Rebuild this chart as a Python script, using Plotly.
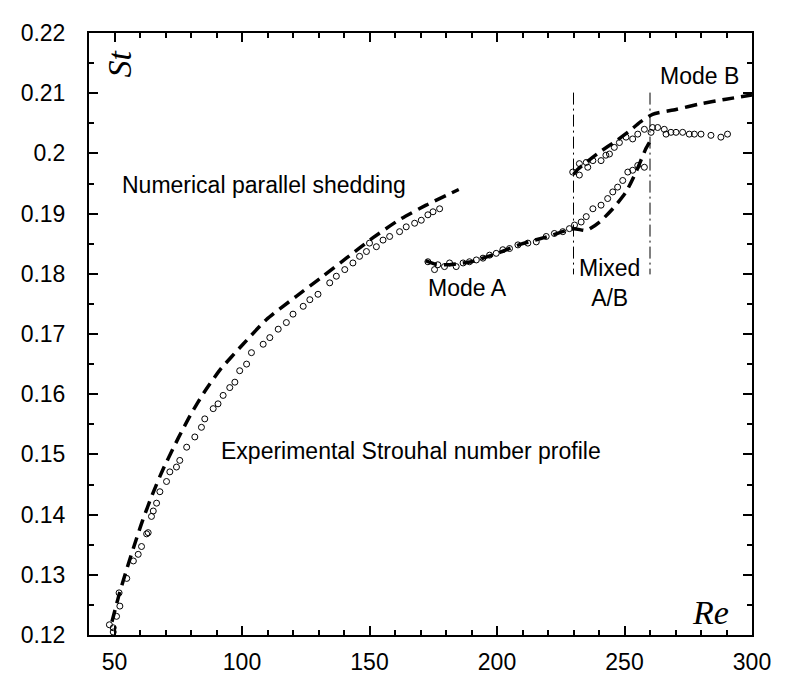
import plotly.graph_objects as go

# experimental Strouhal data (open circles)
exp_low_re = [48, 49.5, 49.5, 50.8, 51.8, 52.1, 54.8, 57.4, 59.3, 60.6, 62.6, 63.2, 64.5, 65.2,
              66.5, 67.8, 70.4, 71.7, 74.3, 75.6, 78.3, 81.5, 84.1, 85.4, 88.7, 90.6, 92.6,
              95.2, 97.2, 99.1, 101.8, 103.7, 108.3, 110.9, 114.2, 117.4, 120, 124, 126.6,
              129.8, 134.4, 137, 140.3, 143.5, 146.1, 148.8, 150, 152.7, 155.3, 157.9,
              161.8, 164.4, 167.7, 170.3, 172.9, 174.9, 177.5]
exp_low_st = [0.1217, 0.1205, 0.1212, 0.1231, 0.1270, 0.1248, 0.1294, 0.1323, 0.1334, 0.1347,
              0.1368, 0.1370, 0.1397, 0.1406, 0.1419, 0.1438, 0.1455, 0.1471, 0.1479, 0.1490,
              0.1512, 0.1529, 0.1545, 0.1559, 0.1576, 0.1584, 0.1598, 0.1611, 0.1620, 0.1639,
              0.1650, 0.1669, 0.1683, 0.1694, 0.1708, 0.1719, 0.1733, 0.1746, 0.1757, 0.1766,
              0.1785, 0.1796, 0.1807, 0.1818, 0.1829, 0.1837, 0.1851, 0.1845, 0.1856, 0.1862,
              0.1870, 0.1878, 0.1884, 0.1889, 0.1898, 0.1903, 0.1908]

exp_a_re = [172.9, 175.5, 176.8, 179.4, 181.4, 184, 186.7, 189.2, 191.9, 194.5, 197.1, 199.7,
            202.3, 204.9, 208.2, 212.1, 215.4, 219.3, 222.5, 225.8, 228.4, 230.4, 233, 235,
            237.6, 240.8, 243.4, 245.4, 247.3, 249.3, 251.3, 253.2, 255.2, 257.8]
exp_a_st = [0.1820, 0.1807, 0.1815, 0.1812, 0.1818, 0.1812, 0.1818, 0.1820, 0.1823, 0.1826,
            0.1831, 0.1834, 0.1840, 0.1842, 0.1848, 0.1851, 0.1853, 0.1862, 0.1867, 0.1870,
            0.1875, 0.1881, 0.1886, 0.1895, 0.1908, 0.1914, 0.1925, 0.1936, 0.1944, 0.1955,
            0.1969, 0.1972, 0.1980, 0.1977]

exp_b_re = [229.7, 232.3, 232.3, 235, 235.6, 237.6, 240.8, 242.7, 244.1, 246, 248, 250.6,
            253.2, 255.2, 257.8, 260.4, 261, 263, 265.6, 266.3, 268.2, 270.2, 272.8, 275.4,
            277.4, 280, 283.9, 287.8, 290.4]
exp_b_st = [0.1969, 0.1964, 0.1983, 0.1985, 0.1977, 0.1988, 0.1988, 0.1997, 0.1999, 0.2010,
            0.2018, 0.2027, 0.2024, 0.2032, 0.2040, 0.2035, 0.2043, 0.2043, 0.2040, 0.2032,
            0.2035, 0.2035, 0.2035, 0.2032, 0.2032, 0.2032, 0.2030, 0.2027, 0.2032]

# numerical curves (dashed)
num_par_re = [49, 52, 55, 58, 61, 65, 69, 75, 80, 85, 91.3, 100.4, 109.6, 121.4, 131.8,
              140.9, 151.4, 161.8, 172.2, 185]
num_par_st = [0.1222, 0.1270, 0.1312, 0.1352, 0.1390, 0.1435, 0.1475, 0.1527, 0.1567, 0.1602,
              0.1640, 0.1683, 0.1724, 0.1763, 0.1796, 0.1826, 0.1860, 0.1890, 0.1914, 0.1940]

num_a_re = [172, 176, 180, 185, 190, 200, 210, 220, 230, 235, 240.2, 245.4, 250.6, 254.5, 258.4, 260]
num_a_st = [0.1822, 0.1816, 0.1815, 0.1817, 0.1820, 0.1834, 0.1850, 0.1862, 0.1875, 0.1872,
            0.1886, 0.1908, 0.1936, 0.1969, 0.2008, 0.2020]

num_b_re = [230, 231.8, 240.2, 246.8, 252.2, 256.1, 261, 270.2, 279.3, 289.8, 300]
num_b_st = [0.1965, 0.1974, 0.2002, 0.2021, 0.2038, 0.2052, 0.2065, 0.2073, 0.2082, 0.2090, 0.2097]

mixed_bounds = [230, 260]

fig = go.Figure()

dash_line = dict(color="black", width=3.5, dash="12px,7px", shape="spline", smoothing=0.6)
for xs, ys in [(num_par_re, num_par_st), (num_a_re, num_a_st), (num_b_re, num_b_st)]:
    fig.add_trace(go.Scatter(x=xs, y=ys, mode="lines", line=dash_line, showlegend=False))

circ = dict(symbol="circle-open", size=6, color="black", line=dict(width=1))
for xs, ys in [(exp_low_re, exp_low_st), (exp_a_re, exp_a_st), (exp_b_re, exp_b_st)]:
    fig.add_trace(go.Scatter(x=xs, y=ys, mode="markers", marker=circ, showlegend=False))

for xb in mixed_bounds:
    fig.add_trace(go.Scatter(x=[xb, xb], y=[0.2101, 0.1799], mode="lines",
                             line=dict(color="black", width=1, dash="12px,4px,2px,4px"),
                             showlegend=False))

font = dict(family="Liberation Sans, Arial, sans-serif", size=23, color="black")
serif = dict(family="Liberation Serif, Times New Roman, serif", size=34, color="black")

notes = [
    (52, 0.1948, "Numerical parallel shedding", "left"),
    (91, 0.1505, "Experimental Strouhal number profile", "left"),
    (172, 0.1776, "Mode A", "left"),
    (244, 0.1785, "Mixed<br>A/B", "center"),
    (263.3, 0.2129, "Mode B", "left"),
]
for x, y, t, al in notes:
    fig.add_annotation(x=x, y=y, text=t, showarrow=False, xanchor=al, align="center",
                       font=font)

fig.add_annotation(x=52.1, y=0.2149, text="<i>St</i>", showarrow=False, textangle=-90,
                   font=serif)
fig.add_annotation(x=283.6, y=0.1238, text="<i>Re</i>", showarrow=False, font=serif)

axis_common = dict(showline=True, linecolor="black", linewidth=2, mirror="allticks",
                   ticks="inside", ticklen=9, tickwidth=1.5, tickcolor="black",
                   showgrid=False, zeroline=False, tickfont=font)

fig.update_xaxes(range=[40, 300], tickvals=[50, 100, 150, 200, 250, 300],
                 minor=dict(dtick=10, tick0=0, ticks="inside", ticklen=5, tickcolor="black"),
                 ticklabelstandoff=5, **axis_common)
fig.update_yaxes(range=[0.12, 0.22], dtick=0.01, tickformat=".2~f",
                 minor=dict(dtick=0.005, tick0=0.12, ticks="inside", ticklen=5, tickcolor="black"),
                 ticklabelstandoff=17, **axis_common)

# page body adds an 8px offset, so the figure is sized to fit inside it
fig.update_layout(width=784, height=679, plot_bgcolor="white", paper_bgcolor="white",
                  margin=dict(l=81, r=40, t=22, b=51), showlegend=False)

fig.write_html("out.html")
